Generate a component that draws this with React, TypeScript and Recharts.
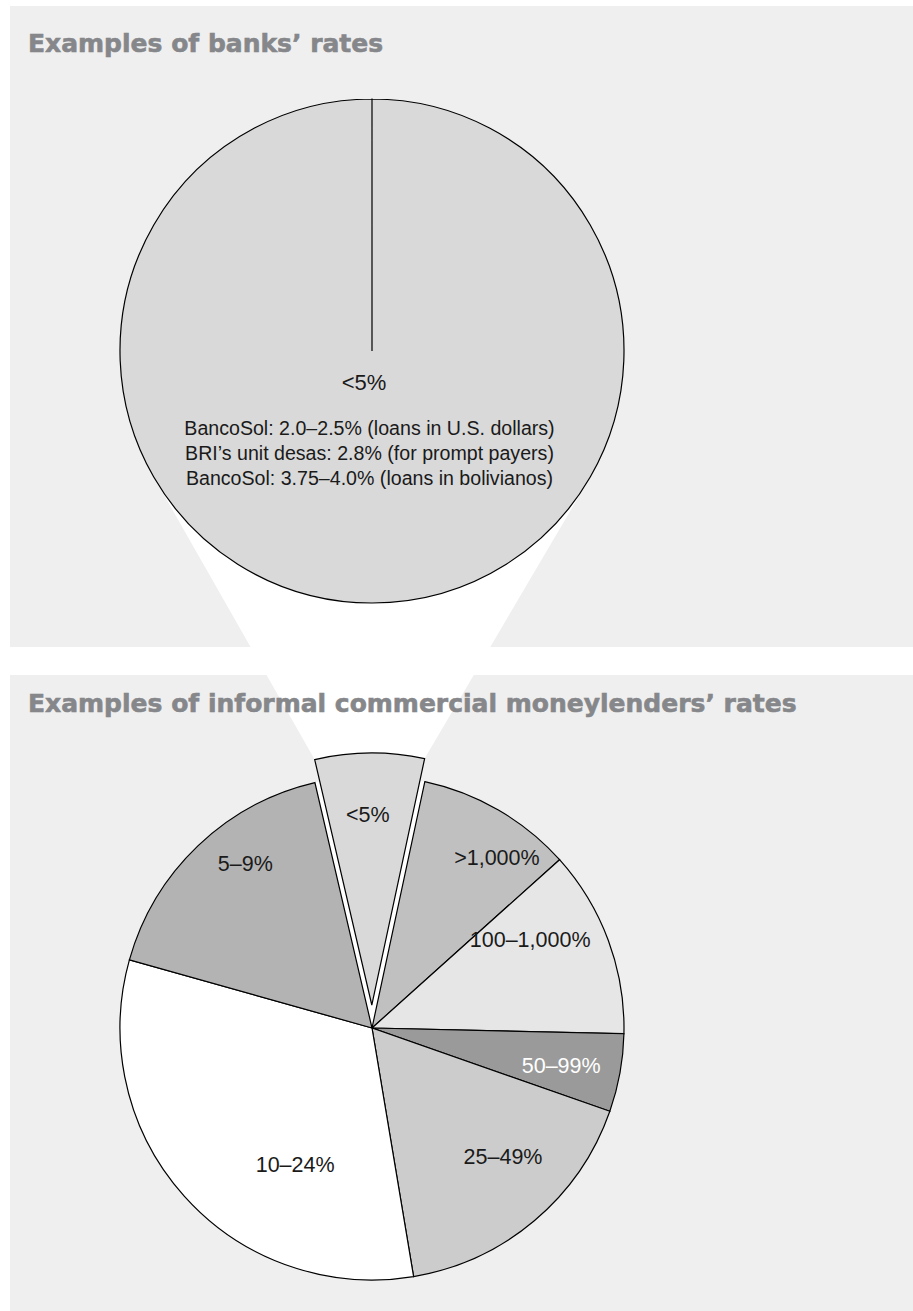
import React from "react";
import { PieChart, Pie, Cell, Customized } from "recharts";

// banks: one slice, the whole circle is "<5%"
const bankRange = ["<5%"];
const bankShare = [100];
const bankExamples = [
  "BancoSol: 2.0–2.5% (loans in U.S. dollars)",
  "BRI’s unit desas: 2.8% (for prompt payers)",
  "BancoSol: 3.75–4.0% (loans in bolivianos)",
];

// moneylenders, clockwise from the exploded wedge at the top
const lenderRanges = ["<5%", ">1,000%", "100–1,000%", "50–99%", "25–49%", "10–24%", "5–9%"];
const lenderShares = [7, 10, 12, 5, 17, 32, 17];

const lenderFills = ["#d9d9d9", "#c0c0c0", "#e6e6e6", "#9a9a9a", "#cccccc", "#ffffff", "#b3b3b3"];
// label spot: [distance from centre, compass degrees]
const labelSpots: [number, number][] = [
  [190, -1.2],
  [211, 36.3],
  [181, 60.9],
  [193, 101.4],
  [184, 134.6],
  [157, 209.3],
  [207, -37.75],
];

const W = 913;
const H = 1311;
const PANEL = "#efefef";
const TITLE = "#86878a";
const FONT = "'Liberation Sans', Arial, sans-serif";
const TITLE_FONT = "'DejaVu Sans', sans-serif";

const TOP = { cx: 372, cy: 351, r: 252 };
const BOTTOM = { cx: 372, cy: 1028, r: 252 };
const START = 103.1; // recharts degrees
const EXPLODE = 23;

const RAD = Math.PI / 180;
const polar = (cx: number, cy: number, r: number, deg: number) => ({
  x: cx + r * Math.cos(-deg * RAD),
  y: cy + r * Math.sin(-deg * RAD),
});

const total = lenderShares.reduce((a, b) => a + b, 0);
const firstSweep = (lenderShares[0] / total) * 360;
const shift = polar(0, 0, EXPLODE, START - firstSweep / 2);
const exCx = BOTTOM.cx + shift.x;
const exCy = BOTTOM.cy + shift.y;

const bankData = bankRange.map((name, i) => ({ name, value: bankShare[i] }));
const lenderData = lenderRanges.map((name, i) => ({ name, value: lenderShares[i] }));

// tangent point on the top circle seen from p
const tangent = (p: { x: number; y: number }, side: number) => {
  const dx = p.x - TOP.cx;
  const dy = p.y - TOP.cy;
  const d = Math.hypot(dx, dy);
  const a = Math.acos(TOP.r / d) * side;
  const ux = dx / d;
  const uy = dy / d;
  return {
    x: TOP.cx + TOP.r * (ux * Math.cos(a) - uy * Math.sin(a)),
    y: TOP.cy + TOP.r * (ux * Math.sin(a) + uy * Math.cos(a)),
  };
};

const Connector = () => {
  const left = polar(exCx, exCy, BOTTOM.r, START);
  const right = polar(exCx, exCy, BOTTOM.r, START - firstSweep);
  const tl = tangent(left, 1);
  const tr = tangent(right, -1);
  const d = `M${tl.x},${tl.y} A${TOP.r},${TOP.r} 0 0 0 ${tr.x},${tr.y} L${right.x},${right.y} A${BOTTOM.r},${BOTTOM.r} 0 0 0 ${left.x},${left.y} Z`;
  return <path d={d} fill="#ffffff" stroke="none" />;
};

const bankLabel = (props: any) => {
  const { cx, cy } = props;
  return (
    <g fontFamily={FONT} fill="#1a1a1a" textAnchor="middle">
      <text x={cx - 8} y={cy + 39} fontSize={22}>
        {bankRange[0]}
      </text>
      {bankExamples.map((t, i) => (
        <text key={i} x={cx - 2.5} y={cy + 84 + 25 * i} fontSize={19.6}>
          {t}
        </text>
      ))}
    </g>
  );
};

const makeLenderLabel = (only: (i: number) => boolean) => (props: any) => {
  const { cx, cy, index } = props;
  if (!only(index)) return <g />;
  const [dist, compass] = labelSpots[index];
  const p = polar(cx, cy, dist, 90 - compass);
  return (
    <text
      x={p.x}
      y={p.y}
      textAnchor="middle"
      dominantBaseline="central"
      fill={index === 3 ? "#ffffff" : "#1a1a1a"}
      fontSize={21.5}
      fontFamily={FONT}
    >
      {lenderRanges[index]}
    </text>
  );
};

const titleStyle: React.CSSProperties = {
  position: "absolute",
  left: 28,
  fontFamily: TITLE_FONT,
  fontWeight: "bold",
  fontSize: 25,
  lineHeight: "25px",
  color: TITLE,
  WebkitTextStroke: `0.6px ${TITLE}`,
  whiteSpace: "nowrap",
};

export default function App() {
  return (
    <div style={{ position: "absolute", left: 0, top: 0, width: W, height: H, overflow: "hidden", background: "#fff" }}>
      <div style={{ position: "absolute", left: 10, top: 6, width: W - 10, height: 641, background: PANEL }} />
      <div style={{ position: "absolute", left: 10, top: 675, width: W - 10, height: H - 675, background: PANEL }} />
      <div style={{ position: "absolute", left: 0, top: 0 }}>
        <PieChart width={W} height={H} margin={{ top: 0, right: 0, bottom: 0, left: 0 }}>
          <Customized component={Connector} />
          <Pie
            data={bankData}
            dataKey="value"
            nameKey="name"
            cx={TOP.cx}
            cy={TOP.cy}
            outerRadius={TOP.r}
            startAngle={90}
            endAngle={-270}
            fill="#d9d9d9"
            stroke="#000"
            strokeWidth={1.2}
            label={bankLabel}
            labelLine={false}
            isAnimationActive={false}
          />
          <Pie
            data={lenderData}
            dataKey="value"
            nameKey="name"
            cx={BOTTOM.cx}
            cy={BOTTOM.cy}
            outerRadius={BOTTOM.r}
            startAngle={START}
            endAngle={START - 360}
            stroke="#000"
            strokeWidth={1.2}
            label={makeLenderLabel((i) => i !== 0)}
            labelLine={false}
            isAnimationActive={false}
          >
            {lenderData.map((d, i) => (
              <Cell key={d.name} fill={i === 0 ? "#ffffff" : lenderFills[i]} stroke={i === 0 ? "none" : "#000"} />
            ))}
          </Pie>
          <Pie
            data={lenderData}
            dataKey="value"
            nameKey="name"
            cx={exCx}
            cy={exCy}
            outerRadius={BOTTOM.r}
            startAngle={START}
            endAngle={START - 360}
            stroke="#000"
            strokeWidth={1.2}
            label={makeLenderLabel((i) => i === 0)}
            labelLine={false}
            isAnimationActive={false}
          >
            {lenderData.map((d, i) => (
              <Cell key={d.name} fill={i === 0 ? lenderFills[0] : "none"} stroke={i === 0 ? "#000" : "none"} />
            ))}
          </Pie>
        </PieChart>
      </div>
      <div style={{ ...titleStyle, top: 30.8 }}>Examples of banks’ rates</div>
      <div style={{ ...titleStyle, top: 690.8 }}>Examples of informal commercial moneylenders’ rates</div>
    </div>
  );
}
